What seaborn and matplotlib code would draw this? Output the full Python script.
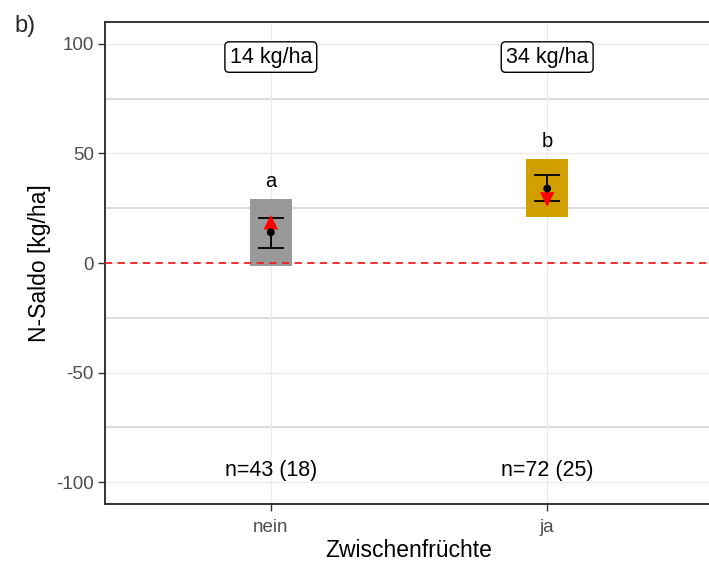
import matplotlib
matplotlib.use("Agg")
import matplotlib.pyplot as plt
import seaborn as sns
import pandas as pd
import numpy as np

# Zwischenfrüchte groups and summary statistics of the N balance
categories = ["nein", "ja"]
mean_vals = [14, 34]
ci_low = [6.8, 28.2]
ci_high = [20.5, 40.0]
box_low = [-1.5, 20.9]
box_high = [29.0, 47.3]
red_vals = [18.6, 29.0]
red_markers = ["^", "v"]
letters = ["a", "b"]
mean_labels = ["14 kg/ha", "34 kg/ha"]
n_labels = ["n=43 (18)", "n=72 (25)"]
box_colors = ["#999999", "#D19F00"]

sns.set_theme(style="white")
plt.rcParams["font.family"] = ["Liberation Sans", "DejaVu Sans"]

df = pd.DataFrame({
    "x": [1, 2],
    "Zwischenfrüchte": categories,
    "mean": mean_vals,
    "lo": ci_low,
    "hi": ci_high,
    "blo": box_low,
    "bhi": box_high,
    "red": red_vals,
})

fig = plt.figure(figsize=(7.09, 5.64), dpi=100)
ax = fig.add_axes([105 / 709, 60 / 564, 608 / 709, 482 / 564])

# grid
for y in [-100, -50, 0, 50, 100]:
    ax.axhline(y, color="#ebebeb", lw=1.0, zorder=0)
for y in [-75, -25, 25, 75]:
    ax.axhline(y, color="#d4d4d4", lw=1.2, zorder=0)
for x in df["x"]:
    ax.axvline(x, color="#ebebeb", lw=1.0, zorder=0)

# range boxes
ax.bar(df["x"], df["bhi"] - df["blo"], bottom=df["blo"], width=0.15,
       color=box_colors, edgecolor="none", zorder=2)

# zero line
ax.axhline(0, color="#ee2222", lw=1.3, ls=(0, (4, 3)), zorder=3)

# confidence interval of the mean
ax.errorbar(df["x"], df["mean"], yerr=[df["mean"] - df["lo"], df["hi"] - df["mean"]],
            fmt="none", ecolor="black", elinewidth=1.3, capsize=9.7, capthick=1.3, zorder=4)

# red markers
for xi, yi, m in zip(df["x"], df["red"], red_markers):
    ax.scatter([xi], [yi], marker=m, s=110, color="red", edgecolor="none", zorder=5)

# mean points
sns.scatterplot(data=df, x="x", y="mean", color="black", s=32, edgecolor="none",
                ax=ax, zorder=6, legend=False)

# letters of significance groups
for xi, yi, t in zip(df["x"], df["bhi"], letters):
    ax.text(xi, yi + 8, t, ha="center", va="center", fontsize=14.5, color="black")

# mean labels
for xi, t in zip(df["x"], mean_labels):
    ax.text(xi, 94, t, ha="center", va="center", fontsize=15.5, color="black",
            bbox=dict(boxstyle="round,pad=0.22,rounding_size=0.2", fc="white",
                      ec="black", lw=1.0))

# sample sizes
for xi, t in zip(df["x"], n_labels):
    ax.text(xi, -94.5, t, ha="center", va="center", fontsize=15.5, color="black")

ax.set_xlim(0.4, 2.6)
ax.set_ylim(-110, 110)
ax.set_xticks(df["x"])
ax.set_xticklabels(categories)
ax.set_yticks([-100, -50, 0, 50, 100])
ax.set_yticklabels(["-100", "-50", "0", "50", "100"])
ax.tick_params(axis="both", which="major", length=5, width=1, color="#333333",
               labelsize=13.5, labelcolor="#4d4d4d", direction="out",
               left=True, bottom=True)
ax.tick_params(axis="y", pad=3)
ax.tick_params(axis="x", pad=6)
ax.set_xlabel("Zwischenfrüchte", fontsize=16.5, color="black", labelpad=2)
ax.set_ylabel("N-Saldo [kg/ha]", fontsize=16.5, color="black", labelpad=4)

for side in ["left", "bottom", "top", "right"]:
    ax.spines[side].set_color("#333333")
    ax.spines[side].set_linewidth(1.4)

fig.text(14 / 709, 1 - 26 / 564, "b)", fontsize=17, ha="left", va="center")

fig.savefig("out.png", dpi=100)
